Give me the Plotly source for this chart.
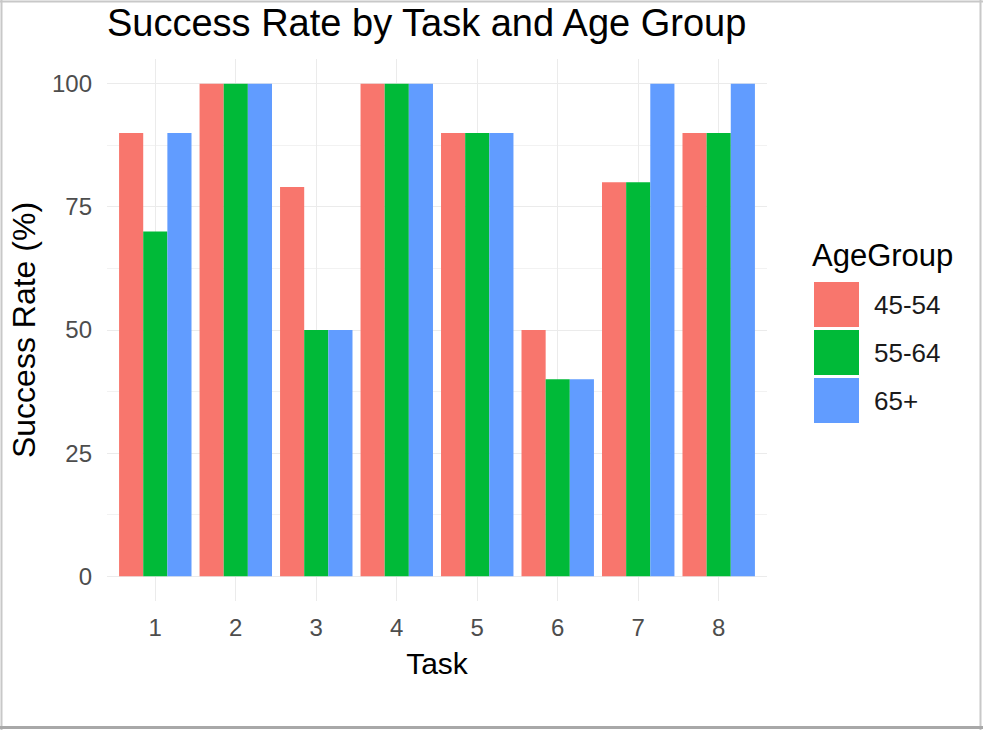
import plotly.graph_objects as go

tasks = ["1", "2", "3", "4", "5", "6", "7", "8"]
age_groups = ["45-54", "55-64", "65+"]
rate_45_54 = [90, 100, 79, 100, 90, 50, 80, 90]
rate_55_64 = [70, 100, 50, 100, 90, 40, 80, 90]
rate_65_plus = [90, 100, 50, 100, 90, 40, 100, 100]
colors = ["#F8766D", "#00BA38", "#619CFF"]
y_ticks = [0, 25, 50, 75, 100]

series = [rate_45_54, rate_55_64, rate_65_plus]

W, H = 983, 730
ML, MR, MT, MB = 107, 216, 59, 129
PW, PH = W - ML - MR, H - MT - MB
FONT = "Liberation Sans, Arial, sans-serif"


def px_x(px):
    return (px - ML) / PW


def px_y(py):
    return 1 - (py - MT) / PH


fig = go.Figure()
for name, vals, col in zip(age_groups, series, colors):
    fig.add_trace(go.Bar(x=tasks, y=vals, name=name, marker=dict(color=col, line=dict(width=0)),
                         showlegend=False))

shapes = []
annotations = []
# custom ggplot-like legend
annotations.append(dict(text="AgeGroup", xref="paper", yref="paper", x=px_x(810), y=px_y(255),
                        xanchor="left", yanchor="middle", showarrow=False,
                        font=dict(family=FONT, size=31, color="black")))
key_tops = [282, 330, 378]
for name, col, top in zip(age_groups, colors, key_tops):
    shapes.append(dict(type="rect", xref="paper", yref="paper", x0=px_x(814), x1=px_x(859),
                       y0=px_y(top), y1=px_y(top + 45), fillcolor=col, line=dict(width=0)))
    annotations.append(dict(text=name, xref="paper", yref="paper", x=px_x(872), y=px_y(top + 23),
                            xanchor="left", yanchor="middle", showarrow=False,
                            font=dict(family=FONT, size=26, color="#1a1a1a")))
# outer frame of the image
shapes.append(dict(type="line", xref="paper", yref="paper", x0=px_x(0), x1=px_x(W), y0=px_y(1.5), y1=px_y(1.5),
                   line=dict(color="#c8c8c8", width=2)))
shapes.append(dict(type="line", xref="paper", yref="paper", x0=px_x(1.5), x1=px_x(1.5), y0=px_y(0), y1=px_y(H),
                   line=dict(color="#c8c8c8", width=2)))
shapes.append(dict(type="line", xref="paper", yref="paper", x0=px_x(980.5), x1=px_x(980.5), y0=px_y(0), y1=px_y(H),
                   line=dict(color="#c8c8c8", width=2)))
shapes.append(dict(type="line", xref="paper", yref="paper", x0=px_x(0), x1=px_x(W), y0=px_y(727.5), y1=px_y(727.5),
                   line=dict(color="#a8a8a8", width=3)))

fig.update_layout(
    width=W, height=H,
    margin=dict(l=ML, r=MR, t=MT, b=MB, pad=0),
    paper_bgcolor="white", plot_bgcolor="white",
    barmode="group", bargap=0.1, bargroupgap=0,
    font=dict(family=FONT, color="black"),
    title=dict(text="Success Rate by Task and Age Group", xref="container", yref="container",
               x=107 / W, xanchor="left", y=1 - 23 / H, yanchor="middle",
               font=dict(family=FONT, size=38, color="black")),
    xaxis=dict(type="category", range=[-0.6, 7.6], showgrid=True, gridcolor="#EBEBEB", gridwidth=1.3,
               zeroline=False, showline=False, ticks="", ticklabelstandoff=10,
               tickfont=dict(family=FONT, size=24, color="#4D4D4D"),
               title=dict(text="Task", standoff=12, font=dict(family=FONT, size=30, color="black"))),
    yaxis=dict(range=[-5, 105], tickvals=y_ticks, showgrid=True, gridcolor="#EBEBEB", gridwidth=1.3,
               zeroline=False, showline=False, ticks="", ticklabelstandoff=14,
               minor=dict(tick0=0, dtick=12.5, showgrid=True, gridcolor="#F2F2F2", gridwidth=1),
               tickfont=dict(family=FONT, size=24, color="#4D4D4D"),
               title=dict(text="Success Rate (%)", standoff=6, font=dict(family=FONT, size=32, color="black"))),
    shapes=shapes, annotations=annotations,
)

fig.write_html("out.html", config={"displayModeBar": False},
               post_script="document.body.style.margin='0px';document.body.style.overflow='hidden';")
